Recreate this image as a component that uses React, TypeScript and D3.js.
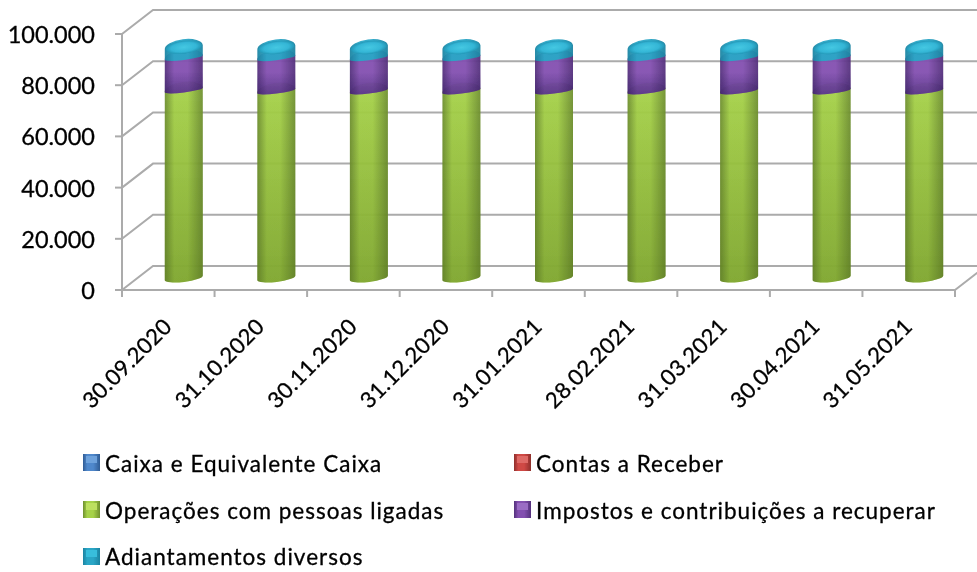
import React from 'react';
import * as d3 from 'd3';

const dates = ['30.09.2020', '31.10.2020', '30.11.2020', '31.12.2020', '31.01.2021', '28.02.2021', '31.03.2021', '30.04.2021', '31.05.2021'];
const caixa = [50, 50, 50, 50, 50, 50, 50, 50, 50];
const contasReceber = [0, 0, 0, 0, 0, 0, 0, 0, 0];
const operacoes = [73400, 73000, 73000, 73000, 73000, 73000, 73000, 73000, 73000];
const impostos = [12700, 13000, 13000, 13000, 13000, 13000, 13000, 13000, 13000];
const adiantamentos = [4000, 4000, 4000, 4000, 4000, 4000, 4000, 4000, 4000];
const yTicks = [0, 20000, 40000, 60000, 80000, 100000];

const series = [
  { name: 'Caixa e Equivalente Caixa', values: caixa, id: 'blue', edge: '#2f5c94', mid: '#4f88cc', cap: '#6ea2dc' },
  { name: 'Contas a Receber', values: contasReceber, id: 'red', edge: '#8e2f2c', mid: '#cf4844', cap: '#de6a66' },
  { name: 'Operações com pessoas ligadas', values: operacoes, id: 'green', edge: '#6f9030', mid: '#a6d248', cap: '#bde060' },
  { name: 'Impostos e contribuições a recuperar', values: impostos, id: 'purple', edge: '#54307c', mid: '#8350b0', cap: '#9a6cc4' },
  { name: 'Adiantamentos diversos', values: adiantamentos, id: 'teal', edge: '#1c84a2', mid: '#2aa6c6', cap: '#38bedc' },
];

const fmt = (v: number) => (v === 0 ? '0' : d3.format(',')(v).replace(/,/g, '.'));

const depthX = 31;
const depthY = 24;
const rx = 19;
const tiltDeg = -7;
const chordDy = rx * Math.sin((-tiltDeg * Math.PI) / 180);
const font = 'Lato, "Open Sans", sans-serif';
const grey = '#ababab';

const App = () => {
  const x = d3.scaleBand<string>().domain(dates).range([122, 955]);
  const y = d3.scaleLinear().domain([0, 100000]).range([290, 34]);
  const stackGen = d3.stack<number>()
    .keys(series.map((_, i) => String(i)))
    .value((i, key) => series[+key].values[i]);
  const stacked = stackGen(dates.map((_, i) => i));

  const segment = (cx: number, y0: number, y1: number, isBottom: boolean) => {
    const ryLow = isBottom ? 4 : 2.5;
    return `M${cx - rx},${y0 + chordDy} A${rx},${ryLow} ${tiltDeg} 0 0 ${cx + rx},${y0 - chordDy}`
      + ` L${cx + rx},${y1 - chordDy} A${rx},8 ${tiltDeg} 0 0 ${cx - rx},${y1 + chordDy} Z`;
  };

  return (
    <svg width={977} height={572} style={{ position: 'absolute', left: 0, top: 0 }}>
      <defs>
        {series.map(s => (
          <linearGradient key={s.id} id={`g-${s.id}`} x1="0" x2="1" y1="0" y2="0">
            <stop offset="0" stopColor={s.edge} />
            <stop offset="0.25" stopColor={s.mid} />
            <stop offset="0.6" stopColor={s.mid} />
            <stop offset="1" stopColor={s.edge} />
          </linearGradient>
        ))}
        <linearGradient id="shade" x1="0" x2="0" y1="0" y2="1">
          <stop offset="0" stopColor="#4a6a10" stopOpacity="0" />
          <stop offset="1" stopColor="#4a6a10" stopOpacity="0.4" />
        </linearGradient>
        <linearGradient id="shadePurple" x1="0" x2="0" y1="0" y2="1">
          <stop offset="0.5" stopColor="#2e1a60" stopOpacity="0" />
          <stop offset="1" stopColor="#2e1a60" stopOpacity="0.45" />
        </linearGradient>
        <radialGradient id="capGrad">
          <stop offset="0" stopColor="#45c8e2" />
          <stop offset="0.7" stopColor="#34b6d6" />
          <stop offset="1" stopColor="#2397b6" />
        </radialGradient>
        <filter id="soft" x="-2%" y="-2%" width="104%" height="104%">
          <feGaussianBlur stdDeviation="0.6" />
        </filter>
      </defs>

      <g filter="url(#soft)">
        {/* walls and gridlines */}
        <g stroke={grey} strokeWidth={2} fill="none">
          {yTicks.map(t => (
            <path key={t} d={`M122,${y(t)} L${122 + depthX},${y(t) - depthY} H977`} />
          ))}
          <line x1={122} x2={122} y1={y(100000)} y2={y(0)} />
          <line x1={122} x2={955} y1={y(0)} y2={y(0)} />
          <line x1={955} x2={955 + depthX} y1={y(0)} y2={y(0) - depthY} />
          {yTicks.map(t => (
            <line key={t} x1={115} x2={122} y1={y(t)} y2={y(t)} />
          ))}
          {[...dates.map(d => x(d) as number), 955].map(p => (
            <line key={p} x1={p} x2={p} y1={y(0)} y2={y(0) + 7} />
          ))}
        </g>

        {/* cylinders */}
        {dates.map((d, i) => {
          const cx = (x(d) as number) + x.bandwidth() / 2 + depthX / 2;
          const topY = y(stacked[stacked.length - 1][i][1]) - depthY / 2;
          return (
            <g key={d}>
              {series.map((s, k) => {
                const y0 = y(stacked[k][i][0]) - depthY / 2;
                const y1 = y(stacked[k][i][1]) - depthY / 2;
                if (s.values[i] <= 100) return null;
                return (
                  <g key={s.id}>
                    <path d={segment(cx, y0, y1, s.id === 'green')} fill={`url(#g-${s.id})`} opacity={0.95} />
                    {s.id === 'green' && <path d={segment(cx, y0, y1, true)} fill="url(#shade)" />}
                    {s.id === 'purple' && <path d={segment(cx, y0, y1, false)} fill="url(#shadePurple)" />}
                  </g>
                );
              })}
              <ellipse cx={cx} cy={topY} rx={rx - 1} ry={6.5} fill="url(#capGrad)" transform={`rotate(${tiltDeg} ${cx} ${topY})`} />
            </g>
          );
        })}

        {/* y axis labels */}
        {yTicks.map(t => (
          <text key={t} x={95} y={y(t) + 9} textAnchor="end" fontFamily={font} fontSize={23.5} stroke="#000" strokeWidth={0.3} fill="#000">{fmt(t)}</text>
        ))}

        {/* x axis labels */}
        {dates.map(d => {
          const px = (x(d) as number) + x.bandwidth() / 2 + 5;
          return (
            <text key={d} transform={`translate(${px},328) rotate(-45)`} textAnchor="end" fontFamily={font} fontSize={22} letterSpacing={0.3} stroke="#000" strokeWidth={0.3} fill="#000">{d}</text>
          );
        })}

        {/* legend */}
        {series.map((s, i) => {
          const lx = i % 2 === 0 ? 83 : 514;
          const row = Math.floor(i / 2);
          const top = 454 + row * 47;
          return (
            <g key={s.id}>
              <rect x={lx} y={top} width={17} height={17} fill={`url(#g-${s.id})`} />
              <rect x={lx + 3} y={top + 2} width={11} height={7} fill={s.cap} />
              <text x={lx + 22} y={472 + row * 46.5} fontFamily={font} fontSize={22.5} letterSpacing={1} stroke="#000" strokeWidth={0.3} fill="#000">{s.name}</text>
            </g>
          );
        })}
      </g>
    </svg>
  );
};

export default App;
